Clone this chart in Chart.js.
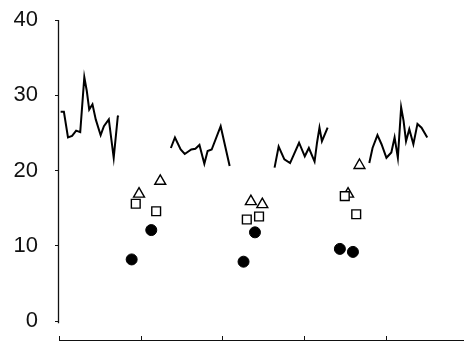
<!DOCTYPE html>
<html>
<head>
<meta charset="utf-8">
<script src="https://cdn.jsdelivr.net/npm/chart.js@4"></script>
<style>
  html, body { margin: 0; padding: 0; background: #fff; overflow: hidden; }
  canvas { display: block; }
</style>
</head>
<body>
<canvas id="chart" width="464" height="343"></canvas>
<script>
// continuous trace, null = break between the four runs
let lineX = [0.2, 0.6, 1.1, 1.6, 2.1, 2.6, 3.1, 3.4, 3.7, 4.1, 4.5, 5.1, 5.5, 6.1, 6.7, 7.2, 7.3,
             10.5,
             13.7, 14.2, 14.9, 15.4, 16.2, 16.7, 17.2, 17.8, 18.2, 18.7, 19.8, 20.9,
             23.5,
             26.4, 26.9, 27.6, 28.3, 29.4, 30.1, 30.6, 31.3, 31.6, 31.9, 32.2, 32.9,
             35.5,
             38.0, 38.4, 39.0, 39.5, 40.1, 40.7, 41.1, 41.5, 41.9, 42.2, 42.5, 42.9, 43.4, 43.9, 44.4, 45.1];
let lineY = [27.8, 27.8, 24.4, 24.6, 25.3, 25.1, 32.4, 30.6, 28.1, 28.8, 26.8, 24.7, 25.9, 26.8, 21.7, 27.2, 27.3,
             null,
             23.0, 24.4, 22.8, 22.2, 22.8, 22.9, 23.4, 20.9, 22.6, 22.8, 25.9, 20.6,
             null,
             20.4, 23.2, 21.5, 21.0, 23.7, 21.9, 23.0, 21.2, 23.7, 25.7, 23.9, 25.7,
             null,
             21.0, 23.0, 24.7, 23.5, 21.7, 22.4, 24.4, 21.7, 28.4, 26.6, 23.9, 25.5, 23.5, 26.2, 25.7, 24.4];

let circleX = [8.9, 11.3, 22.6, 24.0, 34.4, 36.0];
let circleY = [8.2, 12.1, 7.9, 11.8, 9.6, 9.2];

let squareX = [9.4, 11.9, 23.0, 24.5, 35.0, 36.4];
let squareY = [15.6, 14.6, 13.5, 13.9, 16.6, 14.2];

let triangleX = [9.8, 12.4, 23.5, 24.9, 35.4, 36.8];
let triangleY = [16.9, 18.6, 15.9, 15.5, 16.9, 20.7];

let yTickValues = [0, 10, 20, 30, 40];
let xTickValues = [0, 10, 20, 30, 40];

function pts(xs, ys) {
    return xs.map((x, i) => ({ x: x, y: ys[i] }));
}

// y axis line stops at 0, x axis ticks point upward
let axisDecor = {
    id: 'axisDecor',
    afterDraw(chart) {
        let c = chart.ctx;
        let xs = chart.scales.x;
        let ys = chart.scales.y;
        let area = chart.chartArea;
        c.save();
        c.strokeStyle = '#111';
        c.lineWidth = 1.3;
        c.beginPath();
        c.moveTo(area.left - 0.5, ys.getPixelForValue(40));
        c.lineTo(area.left - 0.5, ys.getPixelForValue(0) + 2);
        c.stroke();
        c.lineWidth = 1;
        c.beginPath();
        xTickValues.forEach(v => {
            let px = Math.round(xs.getPixelForValue(v)) + 0.5;
            c.moveTo(px, area.bottom);
            c.lineTo(px, area.bottom - 4);
        });
        c.stroke();
        c.restore();
    }
};

new Chart(document.getElementById("chart"), {
    type: 'scatter',
    data: {
        datasets: [
            {
                type: 'line',
                data: pts(lineX, lineY),
                borderColor: '#000',
                borderWidth: 2,
                pointRadius: 0,
                tension: 0,
                spanGaps: false,
                order: 2
            },
            {
                data: pts(circleX, circleY),
                pointStyle: 'circle',
                pointRadius: 5.5,
                backgroundColor: '#000',
                borderColor: '#000',
                borderWidth: 1,
                order: 1
            },
            {
                data: pts(squareX, squareY),
                pointStyle: 'rect',
                pointRadius: 6.2,
                backgroundColor: '#fff',
                borderColor: '#000',
                borderWidth: 1.4,
                order: 1
            },
            {
                data: pts(triangleX, triangleY),
                pointStyle: 'triangle',
                pointRadius: 6.3,
                backgroundColor: '#fff',
                borderColor: '#000',
                borderWidth: 1.4,
                order: 1
            }
        ]
    },
    options: {
        animation: false,
        responsive: false,
        layout: { autoPadding: false, padding: { top: 20, right: 0, bottom: 0, left: 0 } },
        plugins: {
            legend: { display: false },
            tooltip: { enabled: false }
        },
        scales: {
            x: {
                type: 'linear',
                min: 0,
                max: 49.6,
                ticks: { display: false, stepSize: 10 },
                grid: { display: false },
                border: { display: true, color: '#111', width: 1 },
                afterFit: s => { s.height = 3; s.paddingLeft = 0; s.paddingRight = 0; }
            },
            y: {
                min: -2.5,
                max: 40,
                afterBuildTicks: s => { s.ticks = yTickValues.map(v => ({ value: v })); },
                ticks: {
                    color: '#111',
                    padding: 17,
                    font: { family: "'Liberation Sans', Arial, sans-serif", size: 22 }
                },
                grid: {
                    drawOnChartArea: false,
                    drawTicks: true,
                    tickLength: 4,
                    color: '#111'
                },
                border: { display: false },
                afterFit: s => { s.width = 59; s.paddingTop = 0; s.paddingBottom = 0; }
            }
        }
    },
    plugins: [axisDecor]
});
</script>
</body>
</html>
